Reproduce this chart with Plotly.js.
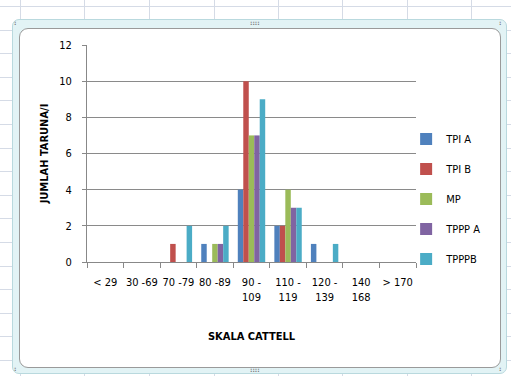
<!DOCTYPE html>
<html>
<head>
<meta charset="utf-8">
<script src="https://cdn.plot.ly/plotly-3.0.1.min.js"></script>
<style>
html,body{margin:0;padding:0;}
body{width:511px;height:376px;position:relative;overflow:hidden;background:#fff;
 background-image:
  repeating-linear-gradient(to right, transparent 0, transparent 20px, #d5dbe6 20px, #d5dbe6 21px, transparent 21px, transparent 64.5px),
  repeating-linear-gradient(to bottom, transparent 0, transparent 6px, #d5dbe6 6px, #d5dbe6 7px, transparent 7px, transparent 23.6px);
}
#outer{position:absolute;left:12px;top:19px;width:493px;height:353px;background:#e2f3f5;border:1px solid #b9d9de;border-radius:7px;}
#inner{position:absolute;left:19px;top:28px;width:480px;height:338px;background:#fff;border:1px solid #9a9a9a;border-radius:9px;}
.dots{position:absolute;font:bold 6px 'DejaVu Sans';color:#777;letter-spacing:0px;line-height:6px;}
#chart{position:absolute;left:0;top:0;width:511px;height:376px;}
</style>
</head>
<body>
<div id="outer"></div>
<div id="inner"></div>
<div class="dots" style="left:250px;top:20px;">::::</div>
<div class="dots" style="left:250px;top:367px;">::::</div>
<div class="dots" style="left:14px;top:20px;">:</div>
<div class="dots" style="left:499px;top:20px;">:</div>
<div class="dots" style="left:14px;top:366px;">:</div>
<div class="dots" style="left:499px;top:366px;">:</div>
<div id="chart"></div>
<script>
var categories = ["< 29", "30 -69", "70 -79", "80 -89", "90 - 109", "110 - 119", "120 - 139", "140 168", "> 170"];
var tickLabels = ["< 29", "30 -69", "70 -79", "80 -89", "90 -<br>109", "110 -<br>119", "120 -<br>139", "140<br>168", "> 170"];
var seriesNames = ["TPI A", "TPI B", "MP", "TPPP A", "TPPPB"];
var tpiA  = [0, 0, 0, 1, 4, 2, 1, 0, 0];
var tpiB  = [0, 0, 1, 0, 10, 2, 0, 0, 0];
var mp    = [0, 0, 0, 1, 7, 4, 0, 0, 0];
var tpppA = [0, 0, 0, 1, 7, 3, 0, 0, 0];
var tpppB = [0, 0, 2, 2, 9, 3, 1, 0, 0];
var colors = ["#4F81BD", "#C0504D", "#9BBB59", "#8064A2", "#4BACC6"];

var allSeries = [tpiA, tpiB, mp, tpppA, tpppB];
var traces = allSeries.map(function(vals, i){
  return {type:'bar', name: seriesNames[i], x: categories, y: vals,
    marker:{color: colors[i]}, legendgroup: 'g'+i};
});

var font = "'DejaVu Sans Condensed', 'Liberation Sans Narrow', Arial, sans-serif";
var layout = {
  width:511, height:376,
  margin:{l:87, r:95, t:45, b:114, pad:0, autoexpand:false},
  paper_bgcolor:'rgba(0,0,0,0)', plot_bgcolor:'rgba(0,0,0,0)',
  barmode:'group', bargap:0.25, bargroupgap:0,
  font:{family:font, size:11, color:'#000'},
  showlegend:true,
  legend:{x:0.97, y:0.29, xanchor:'left', yanchor:'middle', tracegroupgap:11,
    font:{family:font, size:11, color:'#000'}, itemwidth:30, bgcolor:'rgba(0,0,0,0)'},
  xaxis:{type:'category', tickmode:'array', tickvals:categories, ticktext:tickLabels,
    tickson:'boundaries', ticks:'outside', ticklen:5, tickcolor:'#888', tickangle:0,
    showline:true, linecolor:'#888', linewidth:1, showgrid:false, zeroline:false,
    ticklabelstandoff:10,
    tickfont:{family:font, size:11},
    title:{text:'<b>SKALA CATTELL</b>', font:{family:font, size:11}, standoff:29}},
  yaxis:{range:[0,12], dtick:2, ticks:'outside', ticklen:4, tickcolor:'#888',
    showline:true, linecolor:'#888', gridcolor:'#8a8a8a', gridwidth:1, zeroline:false,
    ticklabelstandoff:8,
    tickfont:{family:font, size:11},
    title:{text:'<b>JUMLAH TARUNA/I</b>', font:{family:font, size:11}, standoff:8}}
};
Plotly.newPlot('chart', traces, layout, {displayModeBar:false, staticPlot:true});
</script>
</body>
</html>
